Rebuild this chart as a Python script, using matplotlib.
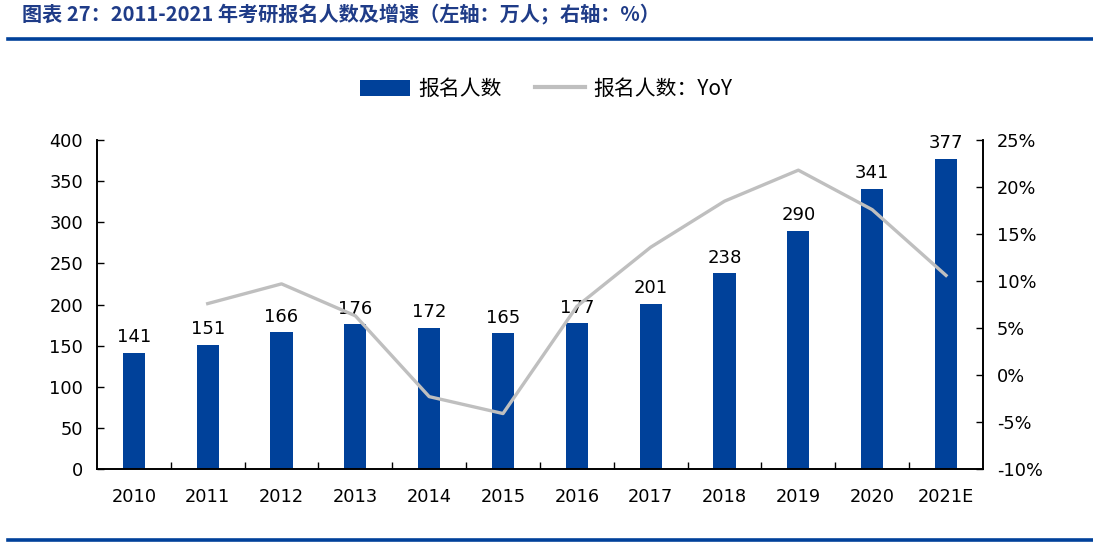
"""考研报名人数及增速（2010-2021E）柱线组合图."""

import matplotlib

matplotlib.use("Agg")
import matplotlib.pyplot as plt  # noqa: E402
from matplotlib.lines import Line2D  # noqa: E402
from matplotlib.ticker import FuncFormatter, MultipleLocator  # noqa: E402

years = ["2010", "2011", "2012", "2013", "2014", "2015",
         "2016", "2017", "2018", "2019", "2020", "2021E"]
applicants = [141, 151, 166, 176, 172, 165, 177, 201, 238, 290, 341, 377]
# YoY 增速（%），2010 无数据
yoy_years = years[1:]
yoy = [7.6, 9.7, 6.3, -2.3, -4.1, 7.3, 13.6, 18.5, 21.8, 17.6, 10.6]

BLUE = "#00419A"
GREY = "#BFBFBF"
TITLE_BLUE = "#1F3C88"
CJK = ["Noto Sans CJK SC", "DejaVu Sans"]

plt.rcParams["font.family"] = ["DejaVu Sans", "Noto Sans CJK SC"]

fig = plt.figure(figsize=(10.93, 5.43), dpi=100)
ax = fig.add_axes([0.0887, 0.1363, 0.8106, 0.6057])
ax2 = ax.twinx()

x = list(range(len(years)))
bars = ax.bar(x, applicants, width=0.30, color=BLUE, zorder=2, label="报名人数")
for xi, v in zip(x, applicants):
    ax.text(xi, v + 8, str(v), ha="center", va="bottom", fontsize=13)

xy = [years.index(y) for y in yoy_years]
ax2.plot(xy, yoy, color=GREY, lw=2.4, zorder=3)

ax.set_xlim(-0.5, len(years) - 0.5)
ax.set_ylim(0, 400)
ax.yaxis.set_major_locator(MultipleLocator(50))
ax2.set_ylim(-10, 25)
ax2.yaxis.set_major_locator(MultipleLocator(5))
ax2.yaxis.set_major_formatter(FuncFormatter(lambda v, _: f"{v:.0f}%"))

ax.set_xticks(x)
ax.set_xticklabels(years)
ax.set_xticks([i + 0.5 for i in x[:-1]], minor=True)
ax.tick_params(axis="x", which="major", length=0, pad=14, labelsize=12.8)
ax.tick_params(axis="x", which="minor", direction="in", length=5, width=1)
ax.tick_params(axis="y", direction="in", length=5, width=1, labelsize=12.8, pad=10)
ax2.tick_params(axis="y", direction="in", length=5, width=1, labelsize=12.8, pad=10)

for a in (ax, ax2):
    a.spines["top"].set_visible(False)
    for s in ("left", "right", "bottom"):
        a.spines[s].set_linewidth(1.2)
ax.set_zorder(ax2.get_zorder() - 1)
ax.patch.set_visible(True)
ax2.patch.set_visible(False)

handles = [
    bars,
    Line2D([], [], color=GREY, lw=3),
]
fig.legend(handles, ["报名人数", "报名人数：YoY"], loc="center",
           bbox_to_anchor=(0.5, 0.836), ncol=2, frameon=False,
           handlelength=2.4, handleheight=0.8, columnspacing=1.6,
           handletextpad=0.4, prop={"family": CJK, "size": 15})

fig.text(0.02, 0.972, "图表 27：2011-2021 年考研报名人数及增速（左轴：万人；右轴：%）",
         ha="left", va="center", fontsize=14.5, color=TITLE_BLUE, style="italic",
         fontweight="semibold", family=CJK)
fig.add_artist(Line2D([0.007, 1.0], [0.928, 0.928], color=BLUE, lw=2.6,
                      transform=fig.transFigure))
fig.add_artist(Line2D([0.007, 1.0], [0.006, 0.006], color=BLUE, lw=2.6,
                      transform=fig.transFigure))

fig.savefig("out.png", dpi=100)
